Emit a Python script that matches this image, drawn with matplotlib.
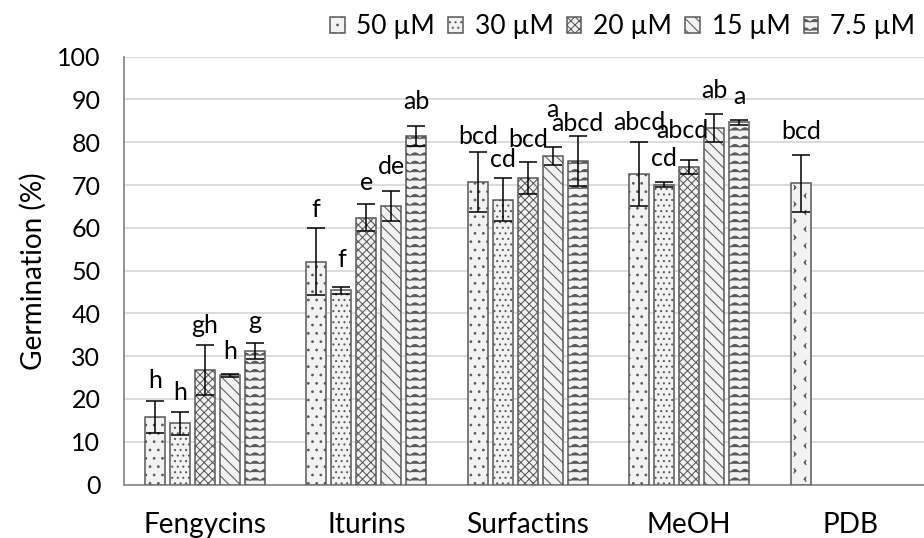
import warnings
warnings.filterwarnings("ignore")
import numpy as np
import matplotlib
matplotlib.use("Agg")
import matplotlib.pyplot as plt
from matplotlib import hatch as mhatch
from matplotlib.path import Path

# ---------------- data ----------------
categories = ["Fengycins", "Iturins", "Surfactins", "MeOH", "PDB"]
series_names = ["50 µM", "30 µM", "20 µM", "15 µM", "7.5 µM"]

germ_50 = [15.8, 52.1, 70.7, 72.6, 70.4]
germ_30 = [14.3, 45.4, 66.6, 70.1, np.nan]
germ_20 = [26.7, 62.4, 71.7, 74.2, np.nan]
germ_15 = [25.5, 65.1, 76.8, 83.3, np.nan]
germ_75 = [31.2, 81.4, 75.6, 84.7, np.nan]

err_50 = [3.8, 7.9, 7.0, 7.5, 6.65]
err_30 = [2.65, 0.8, 5.05, 0.55, np.nan]
err_20 = [5.85, 3.1, 3.75, 1.65, np.nan]
err_15 = [0.4, 3.55, 2.05, 3.3, np.nan]
err_75 = [1.9, 2.35, 5.9, 0.6, np.nan]

letters_50 = ["h", "f", "bcd", "abcd", "bcd"]
letters_30 = ["h", "f", "cd", "cd", ""]
letters_20 = ["gh", "e", "bcd", "abcd", ""]
letters_15 = ["h", "de", "a", "ab", ""]
letters_75 = ["g", "ab", "abcd", "a", ""]

yticks = [0, 10, 20, 30, 40, 50, 60, 70, 80, 90, 100]

# label gap above error bar (pixels), layout only
gap_50 = [12.7, 11, 7.7, 12, 16]
gap_30 = [11.7, 20, 11, 16, 0]
gap_20 = [12.3, 14, 15, 22, 0]
gap_15 = [14.3, 17, 29.7, 16, 0]
gap_75 = [14, 17.7, 5, 16, 0]
dx_20 = [0, 0, 0, -7, 0]


# ---------------- custom hatches ----------------
class WaveHatch(mhatch.HatchPatternBase):
    def __init__(self, hatch, density):
        self.num_rows = hatch.count('w') * density
        self.periods = 10
        self.npts = self.periods * 8 + 1
        self.num_vertices = self.num_rows * self.npts

    def set_vertices_and_codes(self, vertices, codes):
        xs = np.linspace(0, 1, self.npts)
        amp = 0.013
        k = 0
        for r in range(self.num_rows):
            y0 = (r + 0.5) / self.num_rows
            ys = y0 + amp * np.abs(np.sin(np.pi * self.periods * xs)) * 2 - amp
            vertices[k:k + self.npts, 0] = xs
            vertices[k:k + self.npts, 1] = ys
            codes[k] = Path.MOVETO
            codes[k + 1:k + self.npts] = Path.LINETO
            k += self.npts


class ChevronHatch(mhatch.HatchPatternBase):
    def __init__(self, hatch, density):
        n = hatch.count('c')
        self.cols = 5 * n
        self.rows = 6 * n
        self.num_vertices = self.cols * self.rows * 6

    def set_vertices_and_codes(self, vertices, codes):
        dx = 1.0 / self.cols
        dy = 1.0 / self.rows
        w = 0.02
        h = 0.022
        k = 0
        for i in range(self.cols):
            for j in range(self.rows):
                x0 = (i + 0.25) * dx
                y0 = (j + 0.25) * dy
                x1 = (i + 0.75) * dx
                y1 = (j + 0.75) * dy
                vertices[k:k + 6] = [(x0 + w / 2, y0 + h), (x0 - w / 2, y0),
                                     (x0 + w / 2, y0 - h),
                                     (x1 - w / 2, y1 + h), (x1 + w / 2, y1),
                                     (x1 - w / 2, y1 - h)]
                codes[k:k + 6] = [Path.MOVETO, Path.LINETO, Path.LINETO,
                                  Path.MOVETO, Path.LINETO, Path.LINETO]
                k += 6


mhatch._hatch_types.extend([WaveHatch, ChevronHatch])
mhatch._validate_hatch_pattern = lambda h: None

# ---------------- style ----------------
plt.rcParams['font.family'] = ['Lato', 'DejaVu Sans']
plt.rcParams['hatch.linewidth'] = 0.75

W, H = 924, 538
fig = plt.figure(figsize=(W / 100, H / 100), dpi=100)

left_px, base_px, top_px = 124, 484.5, 56.7
group_px = 161.5
ax = fig.add_axes([left_px / W, 1 - base_px / H, 1 - left_px / W,
                   (base_px - top_px) / H])

pitch = 25 / group_px
width = 20 / group_px
x = np.arange(len(categories))

series = [germ_50, germ_30, germ_20, germ_15, germ_75]
errs = [err_50, err_30, err_20, err_15, err_75]
letters = [letters_50, letters_30, letters_20, letters_15, letters_75]
gaps = [gap_50, gap_30, gap_20, gap_15, gap_75]
hatches = ['..', '...', 'xxxx', '\\\\\\', 'ww']

face = '#f2f2f2'
edge = '#595959'

containers = []
for i, (vals, e, hp) in enumerate(zip(series, errs, hatches)):
    xpos = x + (i - 2) * pitch
    bc = ax.bar(xpos, vals, width, color=face, edgecolor=edge, linewidth=1.1,
                hatch=hp, zorder=3, label=series_names[i])
    containers.append(bc)
    ax.errorbar(xpos, vals, yerr=e, fmt='none', ecolor='black',
                elinewidth=1.1, capsize=6.5, capthick=1.1, zorder=4)
    for j in range(len(categories)):
        lab = letters[i][j]
        if not lab:
            continue
        top = vals[j] + e[j]
        dxp = dx_20[j] if i == 2 else 0
        ax.annotate(lab, (xpos[j], top), xytext=(dxp * 0.72, gaps[i][j] * 0.72),
                    textcoords='offset points', ha='center', va='baseline',
                    fontsize=18, color='black', zorder=5)

# PDB bar has its own pattern
containers[0].patches[4].set_hatch('c')

ax.set_xlim(-0.5, -0.5 + (W - left_px) / group_px)
ax.set_ylim(0, 100)
ax.set_yticks(yticks)
ax.set_xticks(x)
ax.set_xticklabels(categories, fontsize=20.2)
ax.tick_params(axis='y', length=0, pad=17, labelsize=18)
ax.tick_params(axis='x', length=0, pad=19.5)
ax.yaxis.grid(True, color='#d9d9d9', linewidth=1.3, zorder=0)
ax.set_axisbelow(True)
for s in ['top', 'right']:
    ax.spines[s].set_visible(False)
for s in ['left', 'bottom']:
    ax.spines[s].set_color('#8c8c8c')
    ax.spines[s].set_linewidth(1.3)

fig.text(33 / W, 1 - 271 / H, 'Germination (%)', rotation=90, ha='center',
         va='center', fontsize=20.2)

fig.legend(handles=containers, labels=series_names, ncol=5,
           loc='upper right', bbox_to_anchor=(915 / W, 1 - 14 / H),
           frameon=False, fontsize=19, handlelength=0.55, handleheight=0.55,
           handletextpad=0.45, columnspacing=0.5, borderpad=0,
           borderaxespad=0)

fig.savefig('out.png', dpi=100)
